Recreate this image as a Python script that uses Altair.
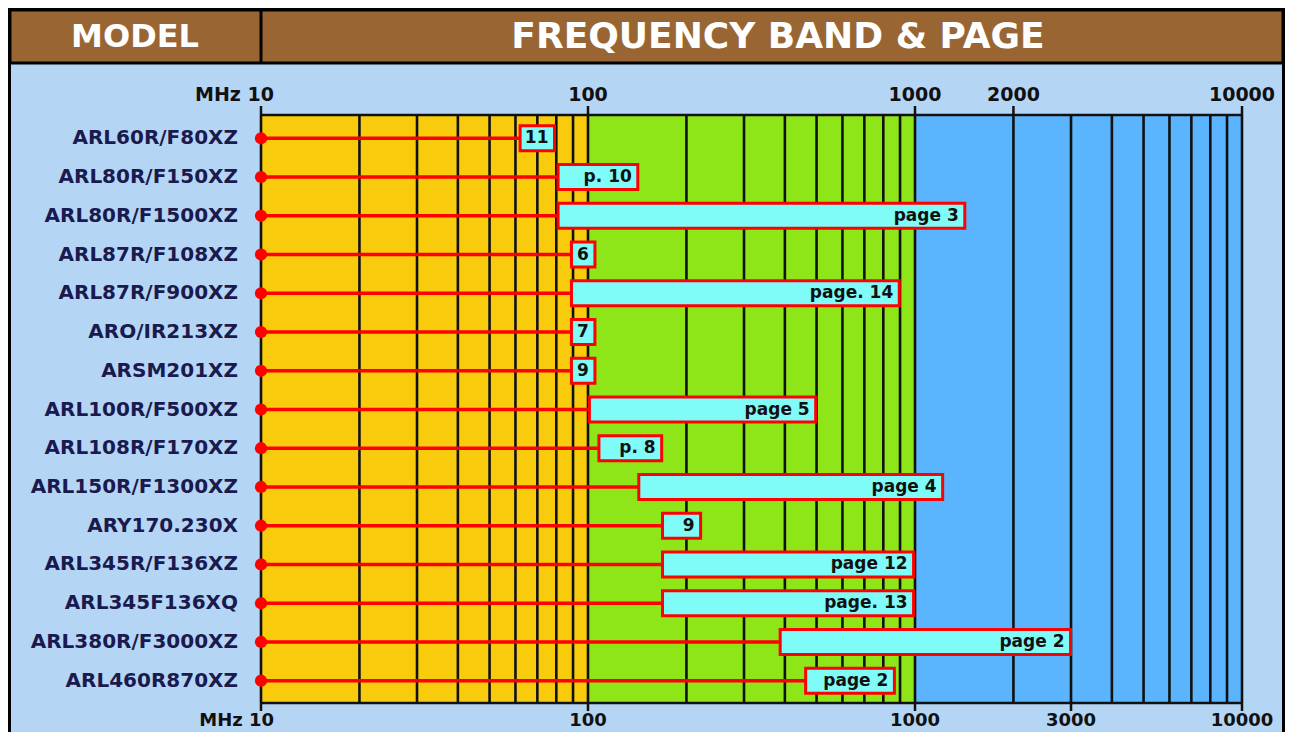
import altair as alt
import pandas as pd

# ---- data ----
models = ["ARL60R/F80XZ", "ARL80R/F150XZ", "ARL80R/F1500XZ", "ARL87R/F108XZ",
          "ARL87R/F900XZ", "ARO/IR213XZ", "ARSM201XZ", "ARL100R/F500XZ",
          "ARL108R/F170XZ", "ARL150R/F1300XZ", "ARY170.230X", "ARL345R/F136XZ",
          "ARL345F136XQ", "ARL380R/F3000XZ", "ARL460R870XZ"]
start_mhz = [62, 81, 81, 89, 89, 89, 89, 101, 108, 143, 169, 169, 169, 387, 463]
end_mhz = [79, 142, 1420, 105, 895, 105, 105, 497, 168, 1215, 221, 990, 990, 2990, 865]
pages = ["11", "p. 10", "page 3", "6", "page. 14", "7", "9", "page 5", "p. 8",
         "page 4", "9", "page 12", "page. 13", "page 2", "page 2"]

band_lo = [10, 100, 1000]
band_hi = [100, 1000, 10000]
band_colors = ["#F8CC0C", "#8EE619", "#5AB4FE"]

grid_mhz = [10, 20, 30, 40, 50, 60, 70, 80, 90,
            100, 200, 300, 400, 500, 600, 700, 800, 900,
            1000, 2000, 3000, 4000, 5000, 6000, 7000, 8000, 9000, 10000]

top_ticks = [10, 100, 1000, 2000, 10000]
top_labels = ["MHz 10", "100", "1000", "2000", "10000"]
bottom_ticks = [10, 100, 1000, 3000, 10000]
bottom_labels = ["MHz 10", "100", "1000", "3000", "10000"]

# ---- styling ----
W, H = 1277, 724
FONT = "DejaVu Sans"
BG = "#B5D5F5"
BROWN = "#996633"
RED = "#FF0000"
CYAN = "#7FFBF8"
NAVY = "#1A1A4E"

PX0, PX1 = 253, 1234     # plot area x (chart coords)
PY0, PY1 = 107, 695      # plot area y

xs = alt.Scale(type="log", domain=[10, 10000], range=[PX0, PX1])
ys = alt.Scale(domain=models, range=[110.9, 692.1], paddingInner=0.3547, paddingOuter=0.1774)

def X(field):
    return alt.X(field, type="quantitative", scale=xs, axis=None)

def Y():
    return alt.Y("model:N", scale=ys, axis=None, sort=models)

one = pd.DataFrame({"k": [0]})

frame = alt.Chart(one).mark_rect(fill=BG, stroke="black", strokeWidth=4).encode(
    x=alt.value(1), x2=alt.value(W - 1), y=alt.value(1), y2=alt.value(H + 20))

header = alt.Chart(one).mark_rect(fill=BROWN, stroke="black", strokeWidth=3).encode(
    x=alt.value(2), x2=alt.value(W - 2), y=alt.value(2), y2=alt.value(55))

divider = alt.Chart(one).mark_rule(color="black", strokeWidth=3).encode(
    x=alt.value(PX0), y=alt.value(2), y2=alt.value(55))

head_df = pd.DataFrame({"t": ["MODEL", "FREQUENCY BAND & PAGE"], "px": [127, 770],
                        "fs": [32, 36]})
head_text = alt.Chart(head_df).mark_text(
    font=FONT, fontWeight="bold", color="white", baseline="middle", align="center"
).encode(x=alt.X("px:Q", scale=None, axis=None), y=alt.value(29), text="t:N",
         size=alt.Size("fs:Q", scale=None, legend=None))

band_df = pd.DataFrame({"lo": band_lo, "hi": band_hi, "c": band_colors})
bands = alt.Chart(band_df).mark_rect().encode(
    x=X("lo"), x2="hi", y=alt.value(PY0), y2=alt.value(PY1),
    color=alt.Color("c:N", scale=None, legend=None))

grid_df = pd.DataFrame({"v": grid_mhz})
grid = alt.Chart(grid_df).mark_rule(color="#111111", strokeWidth=2.6).encode(
    x=X("v"), y=alt.value(PY0), y2=alt.value(PY1))

hl_df = pd.DataFrame({"a": [10, 10], "b": [10000, 10000], "yy": [PY0, PY1]})
hlines = alt.Chart(hl_df).mark_rule(color="#111111", strokeWidth=2.5).encode(
    x=X("a"), x2="b", y=alt.Y("yy:Q", scale=None, axis=None))

tt_df = pd.DataFrame({"v": top_ticks, "lab": top_labels})
bt_df = pd.DataFrame({"v": bottom_ticks, "lab": bottom_labels})
tticks = alt.Chart(tt_df).mark_rule(color="#111111", strokeWidth=2.5).encode(
    x=X("v"), y=alt.value(98), y2=alt.value(PY0))
bticks = alt.Chart(bt_df).mark_rule(color="#111111", strokeWidth=2.5).encode(
    x=X("v"), y=alt.value(PY1), y2=alt.value(703))

def tick_labels(df, ypos, fs):
    first = alt.Chart(df.iloc[:1]).mark_text(
        font=FONT, fontWeight="bold", fontSize=fs, color="#111111", align="right",
        baseline="middle", dx=13).encode(x=X("v"), y=alt.value(ypos), text="lab:N")
    rest = alt.Chart(df.iloc[1:]).mark_text(
        font=FONT, fontWeight="bold", fontSize=fs, color="#111111", align="center",
        baseline="middle").encode(x=X("v"), y=alt.value(ypos), text="lab:N")
    return first + rest

tlabels = tick_labels(tt_df, 87, 19)
blabels = tick_labels(bt_df, 713, 18)

df = pd.DataFrame({"model": models, "start": start_mhz, "end": end_mhz,
                   "page": pages, "base": [10] * len(models)})

leaders = alt.Chart(df).mark_rule(color=RED, strokeWidth=3.5).encode(
    x=X("base"), x2="start", y=Y())
dots = alt.Chart(df).mark_circle(color=RED, opacity=1, size=150).encode(
    x=X("base"), y=Y())
bars = alt.Chart(df).mark_bar(fill=CYAN, stroke=RED, strokeWidth=3).encode(
    x=X("start"), x2="end", y=Y())
page_text = alt.Chart(df).mark_text(
    font=FONT, fontWeight="bold", fontSize=17, color="#111111", align="right",
    baseline="middle", dx=-6).encode(x=X("end"), y=Y(), text="page:N")
model_text = alt.Chart(df).mark_text(
    font=FONT, fontWeight="bold", fontSize=20, color=NAVY, align="right",
    baseline="middle").encode(x=alt.value(230), y=Y(), text="model:N")

chart = alt.layer(
    frame, header, divider, head_text, bands, grid, hlines, tticks, bticks,
    tlabels, blabels, leaders, dots, bars, page_text, model_text
).properties(
    width=W, height=H, autosize=alt.AutoSizeParams(type="none"), padding=0
).configure_view(stroke=None)

chart.save("out.html", embed_options={"renderer": "svg", "actions": False})
